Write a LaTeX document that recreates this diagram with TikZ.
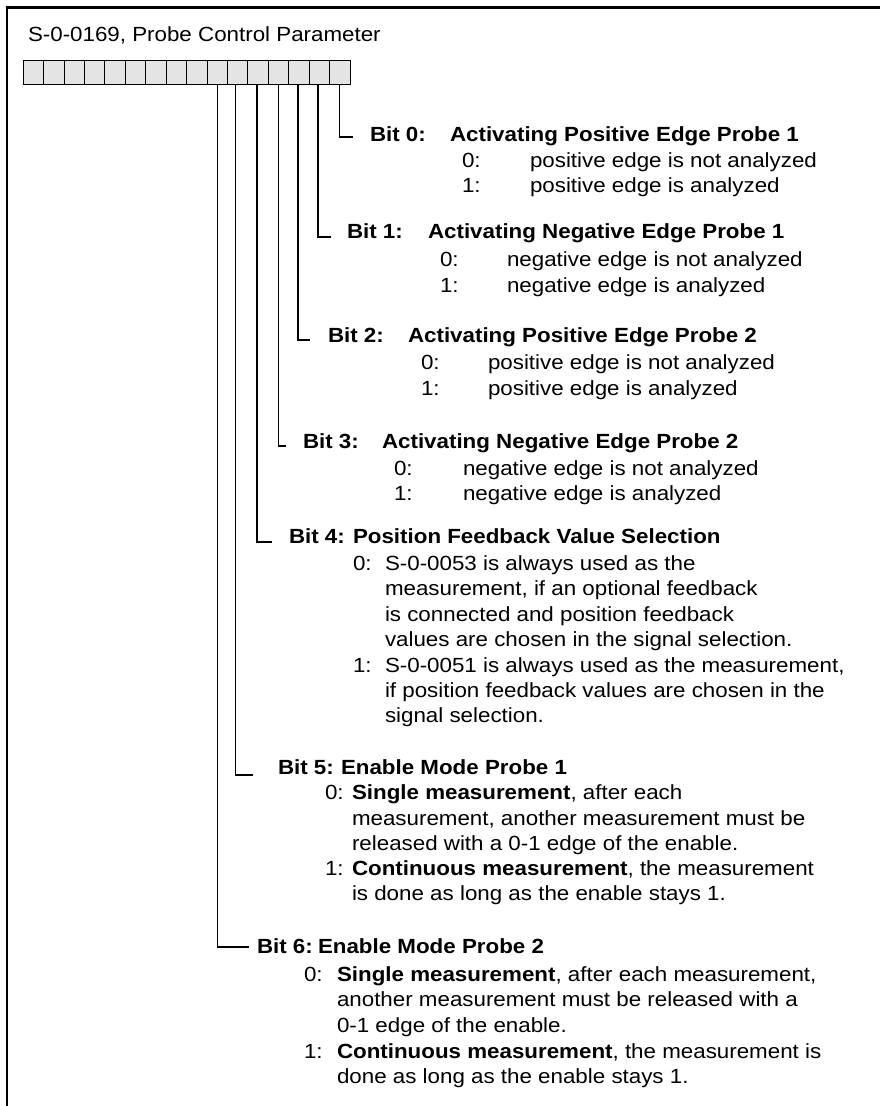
\documentclass[tikz,border=0pt]{standalone}
\usepackage{fontspec}
\setmainfont{Liberation Sans}[FakeStretch=1.09]
\definecolor{boxgray}{RGB}{228,228,228}
\begin{document}
\begin{tikzpicture}[x=1pt,y=-1pt,
  every node/.style={inner sep=0pt, outer sep=0pt, anchor=base west, font=\fontsize{20.5}{25}\selectfont},
  head/.style={font=\fontsize{20.5}{25}\selectfont\bfseries},
  bitbox/.style={draw, line width=1pt, fill=boxgray, minimum width=20.42pt, minimum height=23.5pt, anchor=north west},
  conn/.style={line width=1.3pt},
  framestyle/.style={line width=2.4pt, line cap=rect}]
\useasboundingbox (0,0) rectangle (879,1106);
% frame (top and left)
\draw[framestyle] (879,7.3) -- (6.7,7.3) -- (6.7,1110);
% title
\node (title) at (28,41) {S-0-0169, Probe Control Parameter};
% bit boxes, b0 = rightmost
\foreach \i in {0,...,15} {
  \pgfmathtruncatemacro\bb{15-\i}
  \node[bitbox] (b\bb) at ({23.3+\i*20.42},60.5) {};
}
% corners
\coordinate (c0) at (353,137);
\coordinate (c1) at (331,237);
\coordinate (c2) at (310,340);
\coordinate (c3) at (286,446);
\coordinate (c4) at (272,542);
\coordinate (c5) at (253,775);
\coordinate (c6) at (249,947);
\draw[conn] (b0.south) |- (c0);
\draw[conn] ([xshift=-1.4pt]b1.south) |- (c1);
\draw[conn] ([xshift=-1pt]b2.south) |- (c2);
\draw[conn] (b3.south) |- (c3);
\draw[conn] ([xshift=-1.1pt]b4.south) |- (c4);
\draw[conn] ([xshift=-2.2pt]b5.south) |- (c5);
\draw[conn] (b6.south) |- (c6);
% Bit 0
\node[head] (h0) at (370,141) {Bit 0:};
\node[head] (d0) at (450,141) {Activating Positive Edge Probe 1};
\node (k00) at (462,167) {0:};
\node (v00) at (530,167) {positive edge is not analyzed};
\node (k01) at (462,192) {1:};
\node (v01) at (530,192) {positive edge is analyzed};
% Bit 1
\node[head] (h1) at (347,238) {Bit 1:};
\node[head] (d1) at (428,238) {Activating Negative Edge Probe 1};
\node (k10) at (440,266) {0:};
\node (v10) at (507,266) {negative edge is not analyzed};
\node (k11) at (440,292) {1:};
\node (v11) at (507,292) {negative edge is analyzed};
% Bit 2
\node[head] (h2) at (328,342) {Bit 2:};
\node[head] (d2) at (408,342) {Activating Positive Edge Probe 2};
\node (k20) at (421,369) {0:};
\node (v20) at (488,369) {positive edge is not analyzed};
\node (k21) at (421,395) {1:};
\node (v21) at (488,395) {positive edge is analyzed};
% Bit 3
\node[head] (h3) at (303,448) {Bit 3:};
\node[head] (d3) at (382,448) {Activating Negative Edge Probe 2};
\node (k30) at (394,475) {0:};
\node (v30) at (463,475) {negative edge is not analyzed};
\node (k31) at (394,500) {1:};
\node (v31) at (463,500) {negative edge is analyzed};
% Bit 4
\node[head] (h4) at (289,543) {Bit 4:};
\node[head] (d4) at (353,543) {Position Feedback Value Selection};
\node (k40) at (353,570) {0:};
\node (v40a) at (385,570) {S-0-0053 is always used as the};
\node (v40b) at (385,595) {measurement, if an optional feedback};
\node (v40c) at (385,621) {is connected and position feedback};
\node (v40d) at (385,646) {values are chosen in the signal selection.};
\node (k41) at (353,672) {1:};
\node (v41a) at (385,672) {S-0-0051 is always used as the measurement,};
\node (v41b) at (385,697) {if position feedback values are chosen in the};
\node (v41c) at (385,722) {signal selection.};
% Bit 5
\node[head] (h5) at (278,774) {Bit 5:};
\node[head] (d5) at (341,774) {Enable Mode Probe 1};
\node (k50) at (325,799) {0:};
\node (v50a) at (352,799) {\textbf{Single measurement}, after each};
\node (v50b) at (352,825) {measurement, another measurement must be};
\node (v50c) at (352,850) {released with a 0-1 edge of the enable.};
\node (k51) at (325,875) {1:};
\node (v51a) at (352,875) {\textbf{Continuous measurement}, the measurement};
\node (v51b) at (352,900) {is done as long as the enable stays 1.};
% Bit 6
\node[head] (h6) at (257,953) {Bit 6:};
\node[head] (d6) at (318,953) {Enable Mode Probe 2};
\node (k60) at (304,981) {0:};
\node (v60a) at (337,981) {\textbf{Single measurement}, after each measurement,};
\node (v60b) at (337,1006) {another measurement must be released with a};
\node (v60c) at (337,1032) {0-1 edge of the enable.};
\node (k61) at (304,1058) {1:};
\node (v61a) at (337,1058) {\textbf{Continuous measurement}, the measurement is};
\node (v61b) at (337,1083) {done as long as the enable stays 1.};
\end{tikzpicture}
\end{document}
